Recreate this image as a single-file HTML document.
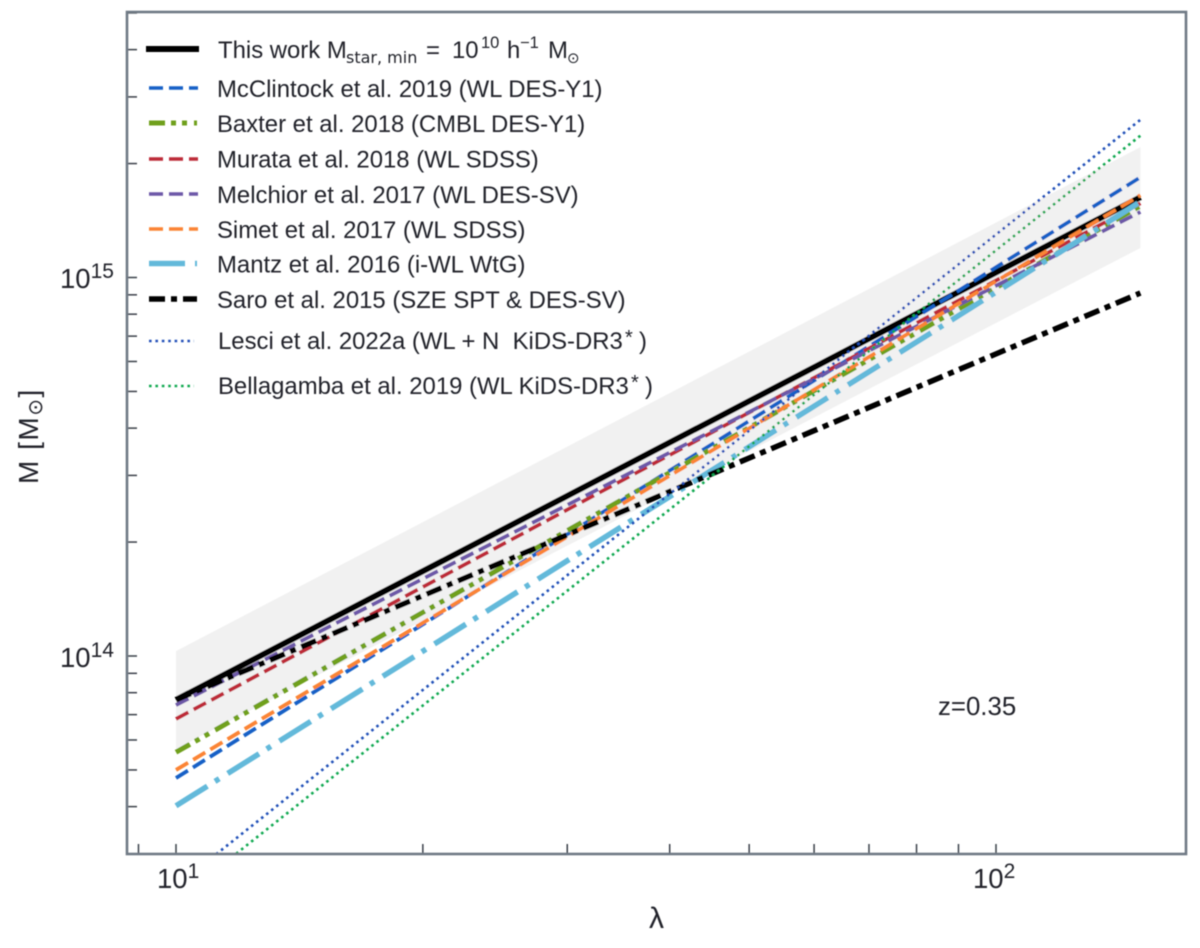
<!DOCTYPE html>
<html>
<head>
<meta charset="utf-8">
<style>
html,body{margin:0;padding:0;background:#fff;}
svg{display:block;}
text{font-family:"Liberation Sans","DejaVu Sans",sans-serif;fill:#20242a;}
.lg{font-size:23.9px;}
.m{font-family:"DejaVu Sans",sans-serif;}
</style>
</head>
<body>
<svg id="chart" xmlns="http://www.w3.org/2000/svg" width="1200" height="948" viewBox="0 0 1200 948">
<defs>
<filter id="soft" x="-2%" y="-2%" width="104%" height="104%"><feGaussianBlur stdDeviation="0.45"/></filter>
<clipPath id="plot-clip"><rect x="127" y="12" width="1059" height="842"/></clipPath>
</defs>
<g filter="url(#soft)">
<g id="band-layer" clip-path="url(#plot-clip)"></g>
<g id="series-layer" clip-path="url(#plot-clip)"></g>
<g id="tick-layer"></g>
<rect x="127" y="12" width="1059" height="842" fill="none" stroke="#6f7984" stroke-width="2.6"/>

<g>
<text x="60" y="288" font-size="27.5">10<tspan font-size="21" dy="-10">15</tspan></text>
<text x="60" y="667" font-size="27.5">10<tspan font-size="21" dy="-10">14</tspan></text>
</g>
<g>
<text x="157" y="888" font-size="27.5">10<tspan font-size="21" dy="-10">1</tspan></text>
<text x="973" y="888" font-size="27.5">10<tspan font-size="21" dy="-10">2</tspan></text>
</g>
<text x="656.5" y="928" font-size="30" text-anchor="middle">λ</text>
<text transform="translate(38,484) rotate(-90)" font-size="28" letter-spacing="1.5">M [M<tspan class="m" font-size="20" dy="4">⊙</tspan><tspan dy="-4">]</tspan></text>
<text x="938" y="715" font-size="25.8">z=0.35</text>

<g>
<g>
<line x1="146" y1="49" x2="199" y2="49" stroke="#000" stroke-width="6"/>
<text y="58" class="lg"><tspan x="218">This work M</tspan><tspan class="m" x="346" y="63" font-size="16">star, min</tspan><tspan x="426" y="58">=</tspan><tspan x="452" y="58">10</tspan><tspan x="481" y="48" font-size="16.5">10</tspan><tspan x="507" y="58">h</tspan><tspan x="520" y="48" font-size="16.5">−1</tspan><tspan x="548" y="58">M</tspan><tspan class="m" x="567" y="63" font-size="15">⊙</tspan></text>
</g>
<g>
<line x1="149" y1="88" x2="198" y2="88" stroke="#1460c6" stroke-width="3.6" stroke-dasharray="14 6"/>
<text x="217" y="97" class="lg">McClintock et al. 2019 (WL DES-Y1)</text>
</g>
<g>
<line x1="149" y1="123" x2="197" y2="123" stroke="#6fa01e" stroke-width="5" stroke-dasharray="16 6 5 6 5 7"/>
<text x="217" y="132" class="lg">Baxter et al. 2018 (CMBL DES-Y1)</text>
</g>
<g>
<line x1="149" y1="159" x2="198" y2="159" stroke="#bd2c38" stroke-width="3.6" stroke-dasharray="14 6"/>
<text x="217" y="167.5" class="lg">Murata et al. 2018 (WL SDSS)</text>
</g>
<g>
<line x1="149" y1="194" x2="198" y2="194" stroke="#6d58a8" stroke-width="3.6" stroke-dasharray="14 6"/>
<text x="217" y="203" class="lg">Melchior et al. 2017 (WL DES-SV)</text>
</g>
<g>
<line x1="149" y1="229" x2="198" y2="229" stroke="#fb8434" stroke-width="3.6" stroke-dasharray="14 6"/>
<text x="217" y="238" class="lg">Simet et al. 2017 (WL SDSS)</text>
</g>
<g>
<line x1="149" y1="263.5" x2="197" y2="263.5" stroke="#64b9da" stroke-width="5.5" stroke-dasharray="36 10 5 10"/>
<text x="217" y="272.5" class="lg">Mantz et al. 2016 (i-WL WtG)</text>
</g>
<g>
<line x1="149" y1="299" x2="197" y2="299" stroke="#000" stroke-width="5.5" stroke-dasharray="16 6 6 6"/>
<text x="217" y="308" class="lg">Saro et al. 2015 (SZE SPT &amp; DES-SV)</text>
</g>
<g>
<line x1="149" y1="341" x2="194" y2="341" stroke="#2050b8" stroke-width="2.6" stroke-dasharray="2.6 3.8"/>
<text y="349" class="lg"><tspan x="218">Lesci et al. 2022a (WL + N &#160;KiDS-DR3</tspan><tspan x="625" y="344" font-size="20">*</tspan><tspan x="639" y="349">)</tspan></text>
</g>
<g>
<line x1="149" y1="386" x2="194" y2="386" stroke="#10a850" stroke-width="2.6" stroke-dasharray="2.6 3.8"/>
<text y="394" class="lg"><tspan x="218">Bellagamba et al. 2019 (WL KiDS-DR3</tspan><tspan x="631" y="389" font-size="20">*</tspan><tspan x="645" y="394">)</tspan></text>
</g>
</g>
</g>
<script>
// richness endpoints of every relation
const lambdaValues = [10, 150];
// masses in units of 1e14 Msun
const bandUpper = [1.03, 22.1];
const bandLower = [0.568, 11.97];
const thisWork = [0.766, 16.3];
const mcclintock = [0.476, 18.4];
const baxter = [0.557, 15.45];
const murata = [0.682, 15.7];
const melchior = [0.742, 14.9];
const simet = [0.5, 16.5];
const mantz = [0.402, 15.85];
const saro = [0.766, 9.1];
const lesci = [0.2466, 26.1];
const bellagamba = [0.2246, 23.7];
// axis tick values
const xTicks = [9, 10, 20, 30, 40, 50, 60, 70, 80, 90, 100];
const yTicks = [0.3, 0.4, 0.5, 0.6, 0.7, 0.8, 0.9, 1, 2, 3, 4, 5, 6, 7, 8, 9, 10, 20, 30, 40, 50];

const NS = 'http://www.w3.org/2000/svg';
function xPos(l) { return 176 + 820 * (Math.log10(l) - 1); }
function yPos(m) { return 656 - 378.5 * Math.log10(m); }

const seriesList = [
  { key: 'this-work', v: thisWork, c: '#000000', w: 6, d: '' },
  { key: 'mcclintock', v: mcclintock, c: '#1460c6', w: 3.8, d: '14 6' },
  { key: 'baxter', v: baxter, c: '#6fa01e', w: 5, d: '16 6 5 6 5 7' },
  { key: 'murata', v: murata, c: '#bd2c38', w: 3.8, d: '14 6' },
  { key: 'melchior', v: melchior, c: '#6d58a8', w: 3.8, d: '14 6' },
  { key: 'simet', v: simet, c: '#fb8434', w: 3.8, d: '14 6' },
  { key: 'mantz', v: mantz, c: '#64b9da', w: 5.5, d: '37 9 5 10' },
  { key: 'saro', v: saro, c: '#000000', w: 5.5, d: '16 6 6 6' },
  { key: 'lesci', v: lesci, c: '#2050b8', w: 2.6, d: '2.6 3.8' },
  { key: 'bellagamba', v: bellagamba, c: '#10a850', w: 2.6, d: '2.6 3.8' }
];

const bandLayer = document.getElementById('band-layer');
const band = document.createElementNS(NS, 'path');
let bandPath = '';
lambdaValues.forEach(function (l, i) {
  bandPath += (i ? 'L' : 'M') + xPos(l) + ' ' + yPos(bandUpper[i]);
});
lambdaValues.slice().reverse().forEach(function (l, i) {
  bandPath += 'L' + xPos(l) + ' ' + yPos(bandLower[lambdaValues.length - 1 - i]);
});
band.setAttribute('d', bandPath + 'Z');
band.setAttribute('fill', '#f1f1f1');


bandLayer.appendChild(band);

const seriesLayer = document.getElementById('series-layer');
seriesList.forEach(function (s) {
  const path = document.createElementNS(NS, 'path');
  let d = '';
  lambdaValues.forEach(function (l, i) {
    d += (i ? 'L' : 'M') + xPos(l) + ' ' + yPos(s.v[i]);
  });
  path.setAttribute('d', d);
  path.setAttribute('fill', 'none');
  path.setAttribute('stroke', s.c);
  path.setAttribute('stroke-width', s.w);
  if (s.d) path.setAttribute('stroke-dasharray', s.d);
  
  
  seriesLayer.appendChild(path);
});

const tickLayer = document.getElementById('tick-layer');
xTicks.forEach(function (t) {
  const line = document.createElementNS(NS, 'line');
  line.setAttribute('x1', xPos(t));
  line.setAttribute('x2', xPos(t));
  line.setAttribute('y1', 854);
  line.setAttribute('y2', 844);
  line.setAttribute('stroke', '#3a4149');
  line.setAttribute('stroke-width', 1.5);
  
  
  tickLayer.appendChild(line);
});
yTicks.forEach(function (t) {
  const line = document.createElementNS(NS, 'line');
  line.setAttribute('x1', 127);
  line.setAttribute('x2', 137);
  line.setAttribute('y1', yPos(t));
  line.setAttribute('y2', yPos(t));
  line.setAttribute('stroke', '#3a4149');
  line.setAttribute('stroke-width', 1.5);
  
  
  tickLayer.appendChild(line);
});
</script>
</svg>
</body>
</html>
